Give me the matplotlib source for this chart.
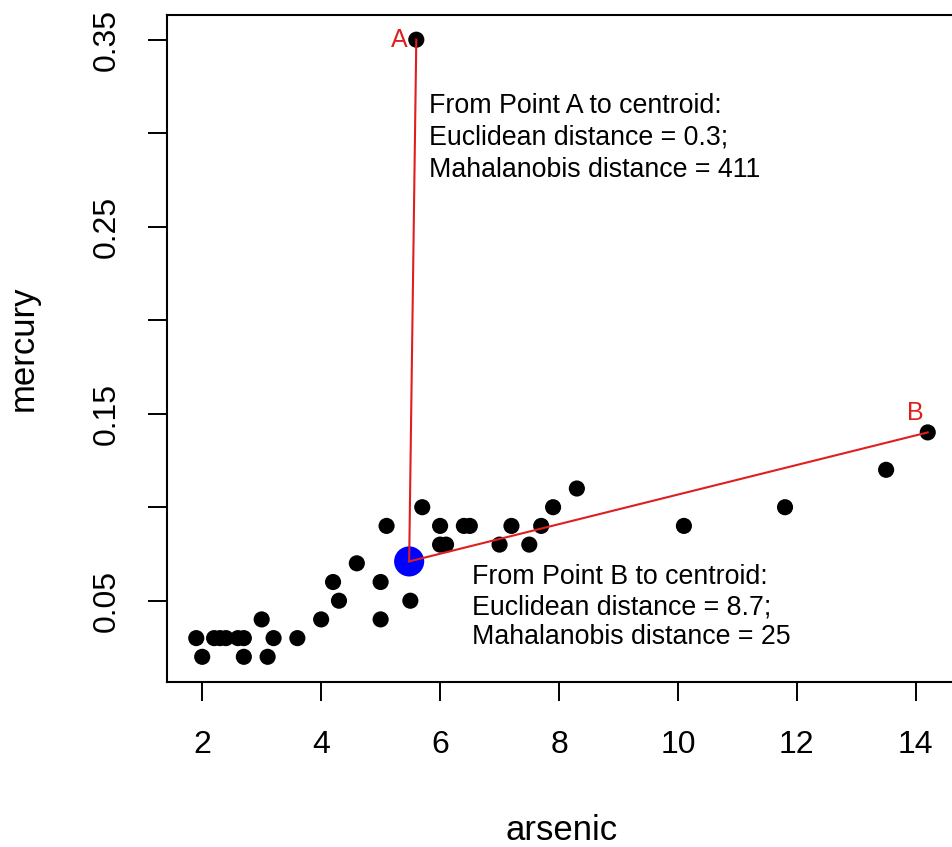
import numpy as np
import matplotlib
matplotlib.use('Agg')
import matplotlib.pyplot as plt

# data
arsenic = [1.9, 2.0, 2.2, 2.3, 2.4, 2.6, 2.7, 2.7, 3.0, 3.1, 3.2, 3.6, 4.0, 4.2,
           4.3, 4.6, 5.0, 5.0, 5.1, 5.5, 5.7, 6.0, 6.0, 6.1, 6.4, 6.5, 7.0, 7.2,
           7.5, 7.7, 7.9, 8.3, 10.1, 11.8, 13.5, 14.2, 5.6]
mercury = [0.03, 0.02, 0.03, 0.03, 0.03, 0.03, 0.03, 0.02, 0.04, 0.02, 0.03, 0.03,
           0.04, 0.06, 0.05, 0.07, 0.04, 0.06, 0.09, 0.05, 0.10, 0.09, 0.08, 0.08,
           0.09, 0.09, 0.08, 0.09, 0.08, 0.09, 0.10, 0.11, 0.09, 0.10, 0.12, 0.14,
           0.35]
centroid = (5.48, 0.071)
point_a = (5.6, 0.35)
point_b = (14.2, 0.14)
text_a = 'From Point A to centroid:\nEuclidean distance = 0.3;\nMahalanobis distance = 411'
text_b = 'From Point B to centroid:\nEuclidean distance = 8.7;\nMahalanobis distance = 25'
xticks = [2, 4, 6, 8, 10, 12, 14]
yticks = [0.05, 0.10, 0.15, 0.20, 0.25, 0.30, 0.35]
ytick_labels = ['0.05', '', '0.15', '', '0.25', '', '0.35']

RED = '#E01E1E'
plt.rcParams['font.family'] = ['Liberation Sans', 'DejaVu Sans']

fig = plt.figure(figsize=(9.53, 8.47), dpi=100, facecolor='white')
ax = fig.add_axes([167 / 953, 1 - 681.5 / 847, 790 / 953, 666.5 / 847])

ax.scatter(arsenic, mercury, s=135, c='black', edgecolors='none', zorder=2)
ax.scatter([centroid[0]], [centroid[1]], s=470, c='#0000FF', edgecolors='none', zorder=3)
for p in (point_a, point_b):
    ax.plot([centroid[0], p[0]], [centroid[1], p[1]], color=RED, lw=1.5, zorder=4)

ax.annotate('A', point_a, xytext=(-9, 0), textcoords='offset pixels',
            ha='right', va='center', color=RED, fontsize=18)
ax.annotate('B', point_b, xytext=(-12, 7), textcoords='offset pixels',
            ha='center', va='bottom', color=RED, fontsize=18)
ax.text(5.815, 0.3217, text_a, ha='left', va='top', fontsize=19.3, linespacing=1.3)
ax.text(6.535, 0.0697, text_b, ha='left', va='top', fontsize=19.3, linespacing=1.21)

# R-style 4% padding
xr = max(arsenic) - min(arsenic); yr = max(mercury) - min(mercury)
ax.set_xlim(min(arsenic) - 0.04 * xr, max(arsenic) + 0.04 * xr)
ax.set_ylim(min(mercury) - 0.04 * yr, max(mercury) + 0.04 * yr)

ax.set_xticks(xticks)
ax.set_xticklabels([str(t) for t in xticks])
ax.set_yticks(yticks)
ax.set_yticklabels(ytick_labels, rotation=90, va='center')
ax.tick_params(axis='both', length=14, width=1.4, labelsize=23, color='black')
ax.tick_params(axis='x', pad=21)
ax.tick_params(axis='y', pad=18.5)
for s in ax.spines.values():
    s.set_linewidth(1.5)

ax.set_xlabel('arsenic', fontsize=25, labelpad=38.5)
ax.set_ylabel('mercury', fontsize=25, labelpad=37.5)

fig.savefig('out.png', dpi=100, facecolor='white')
